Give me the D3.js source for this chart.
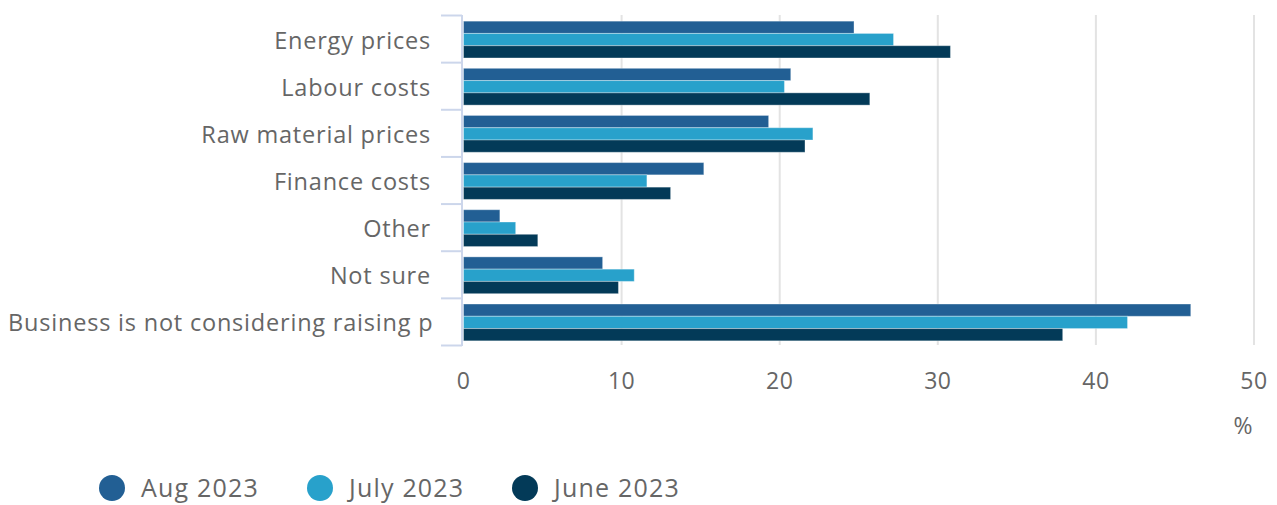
<!DOCTYPE html>
<html>
<head>
<meta charset="utf-8">
<script src="https://cdn.jsdelivr.net/npm/d3@7"></script>
<style>
  body { margin: 0; background: #fff; }
  text { font-family: "Open Sans", sans-serif; fill: #666666; }
</style>
</head>
<body>
<svg class="chart" width="1277" height="505"></svg>
<script>
    // values (share of businesses, %)
    const categories = ["Energy prices", "Labour costs", "Raw material prices", "Finance costs", "Other", "Not sure", "Business is not considering raising prices"];
    const seriesNames = ["Aug 2023", "July 2023", "June 2023"];
    const aug2023 = [24.7, 20.7, 19.3, 15.2, 2.3, 8.8, 46.0];
    const july2023 = [27.2, 20.3, 22.1, 11.6, 3.3, 10.8, 42.0];
    const june2023 = [30.8, 25.7, 21.6, 13.1, 4.7, 9.8, 37.9];
    const xTicks = [0, 10, 20, 30, 40, 50];
    const colors = ["#225f94", "#28a1cb", "#033a58"];

    let svg = d3.select(".chart");
    let series = [aug2023, july2023, june2023];

    let x = d3.scaleLinear().domain([0, 50]).range([463.5, 1254]);
    let y = d3.scaleBand().domain(categories).range([15.5, 345.5]);
    let inner = d3.scaleBand().domain(seriesNames).range([0, y.bandwidth()]).paddingOuter(0.42);

    // grid
    svg.append("g")
        .selectAll("line")
        .data(xTicks.slice(1))
        .enter()
        .append("line")
        .attr("x1", d => x(d)).attr("x2", d => x(d))
        .attr("y1", 15).attr("y2", 345)
        .style("stroke", "#e3e3e3")
        .style("stroke-width", 2);

    // bars
    series.forEach((vals, s) => {
        svg.append("g")
            .selectAll("rect")
            .data(vals)
            .enter()
            .append("rect")
            .attr("x", x(0))
            .attr("y", (d, i) => y(categories[i]) + inner(seriesNames[s]) + 0.5)
            .attr("width", d => x(d) - x(0))
            .attr("height", inner.bandwidth())
            .attr("fill", colors[s])
            .style("stroke", "rgba(255,255,255,0.35)")
            .style("stroke-width", 1);
    });

    // y axis line and ticks
    svg.append("line")
        .attr("x1", 462).attr("x2", 462)
        .attr("y1", 15).attr("y2", 346)
        .style("stroke", "#ccd6eb").style("stroke-width", 2);

    let bounds = categories.map(c => y(c)).concat([345.5]);
    svg.append("g")
        .selectAll("line")
        .data(bounds)
        .enter()
        .append("line")
        .attr("x1", 441).attr("x2", 462)
        .attr("y1", d => d).attr("y2", d => d)
        .style("stroke", "#ccd6eb").style("stroke-width", 2);

    // category labels, clipped like the original
    svg.append("clipPath").attr("id", "lab")
        .append("rect").attr("x", 0).attr("y", 0).attr("width", 432).attr("height", 360);

    svg.append("g")
        .attr("clip-path", "url(#lab)")
        .selectAll("text")
        .data(categories)
        .enter()
        .append("text")
        .attr("x", d => d.length > 30 ? 8 : 431)
        .attr("y", d => y(d) + y.bandwidth() / 2 + 9.5)
        .attr("text-anchor", d => d.length > 30 ? "start" : "end")
        .style("font-size", "23.5px")
        .style("letter-spacing", "0.8px")
        .text(d => d);

    // x tick labels
    svg.append("g")
        .selectAll("text")
        .data(xTicks)
        .enter()
        .append("text")
        .attr("x", d => x(d))
        .attr("y", 389)
        .attr("text-anchor", "middle")
        .style("font-size", "23px")
        .style("letter-spacing", "0.5px")
        .text(d => d);

    svg.append("text")
        .attr("x", 1243).attr("y", 434)
        .attr("text-anchor", "middle")
        .style("font-size", "23px")
        .text("%");

    // legend
    let legendX = [112, 320, 525];
    let legend = svg.append("g")
        .selectAll("g")
        .data(seriesNames)
        .enter()
        .append("g")
        .attr("transform", (d, i) => `translate(${legendX[i]},488)`);

    legend.append("circle")
        .attr("r", 13)
        .attr("fill", (d, i) => colors[i]);

    legend.append("text")
        .attr("x", 29)
        .attr("y", 9)
        .style("font-size", "25px")
        .style("letter-spacing", "1.2px")
        .text(d => d);
</script>
</body>
</html>
